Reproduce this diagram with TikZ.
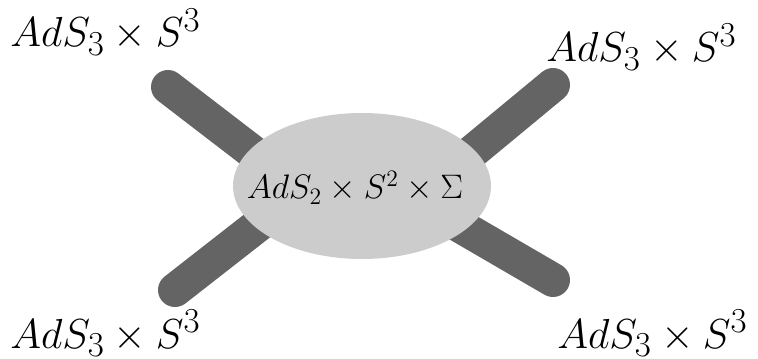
\documentclass[tikz,border=0pt]{standalone}
\usepackage{amsmath,amssymb}
\usepackage{tikz}
\usetikzlibrary{shapes.geometric,positioning}
\definecolor{legcol}{HTML}{646464}
\definecolor{blobcol}{HTML}{CCCCCC}

\begin{document}
\begin{tikzpicture}[leg/.style={draw=legcol, line width=0.68cm, line cap=round},
                    blob/.style={ellipse, fill=blobcol, minimum width=5.16cm,
                                 minimum height=2.92cm, inner sep=0pt},
                    blobtext/.style={anchor=base, inner sep=0pt, scale=1.12,
                                     font=\fontsize{17.28}{21}\selectfont},
                    lbl/.style={anchor=base west, inner sep=0pt, scale=0.96,
                                font=\fontsize{24.88}{30}\selectfont}]
  \useasboundingbox (0,0) rectangle (15.16,7.16);

  \coordinate (ul-out) at (3.36,5.42);
  \coordinate (ul-in)  at (5.60,3.70);
  \coordinate (ur-out) at (11.06,5.46);
  \coordinate (ur-in)  at (8.86,3.64);
  \coordinate (ll-out) at (3.50,1.36);
  \coordinate (ll-in)  at (5.60,3.00);
  \coordinate (lr-out) at (11.06,1.56);
  \coordinate (lr-in)  at (8.86,2.84);

  \draw[leg] (ul-in) -- (ul-out);
  \draw[leg] (ur-in) -- (ur-out);
  \draw[leg] (ll-in) -- (ll-out);
  \draw[leg] (lr-in) -- (lr-out);

  \node[blob] (core) at (7.24,3.44) {};
  \node[blobtext] (core-txt) at (7.10,3.18) {$AdS_2\times S^2\times\Sigma$};

  \node[lbl] (tl) at (0.20,6.22) {$AdS_3\times S^3$};
  \node[lbl] (tr) at (10.92,5.92) {$AdS_3\times S^3$};
  \node[lbl] (bl) at (0.20,0.20) {$AdS_3\times S^3$};
  \node[lbl] (br) at (11.14,0.20) {$AdS_3\times S^3$};
\end{tikzpicture}
\end{document}
